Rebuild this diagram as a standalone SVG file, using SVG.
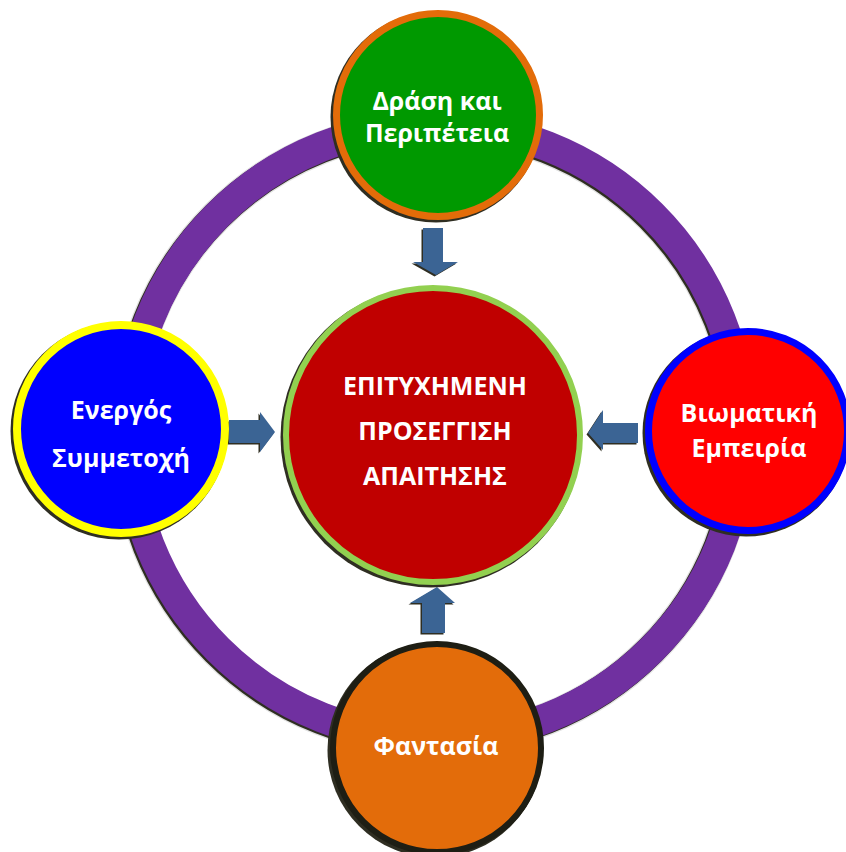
<svg xmlns="http://www.w3.org/2000/svg" width="846" height="852" viewBox="0 0 846 852">
  <style>
    .lbl { font-family: "Open Sans", "Liberation Sans", sans-serif; font-weight: bold; font-size: 25px; fill: #ffffff; text-anchor: middle; }
    .ctr { font-size: 25px; }
    .shadow { fill: #2f2e22; }
    .arrow { fill: #3b6494; }
    .ashadow { fill: #2f2e22; }
  </style>
  <rect width="846" height="852" fill="#ffffff"/>
  <g id="ring">
    <circle cx="433.5" cy="433.5" r="307" fill="none" stroke="#e2e2e2" stroke-width="33"/>
    <circle cx="433.5" cy="433.5" r="307" fill="none" stroke="#2f2e22" stroke-width="30.5"/>
    <circle cx="435" cy="432" r="307" fill="none" stroke="#7030a0" stroke-width="30"/>
  </g>
  <g id="connectors">
    <polygon class="ashadow" points="421.5,229.5 441.5,229.5 441.5,263.5 456.5,263.5 434.5,276.5 411.5,263.5 421.5,263.5"/>
    <polygon class="arrow" points="423,228 443,228 443,262 458,262 436,275 413,262 423,262"/>
    <polygon class="ashadow" points="227.5,421.5 258.5,421.5 258.5,413.5 273.5,433.5 258.5,453.5 258.5,444.5 227.5,444.5"/>
    <polygon class="arrow" points="229,420 260,420 260,412 275,432 260,452 260,443 229,443"/>
    <polygon class="ashadow" points="435.5,588.5 453.5,604.5 443.5,604.5 443.5,634.5 420.5,634.5 420.5,604.5 408.5,604.5"/>
    <polygon class="arrow" points="437,587 455,603 445,603 445,633 422,633 422,603 410,603"/>
    <polygon class="ashadow" points="586.5,434.5 601.5,411.5 601.5,424.5 636.5,424.5 636.5,444.5 601.5,444.5 601.5,451.5"/>
    <polygon class="arrow" points="588,433 603,410 603,423 638,423 638,443 603,443 603,450"/>
  </g>
  <g id="node-top">
    <circle class="shadow" cx="436" cy="117" r="105.5"/>
    <circle cx="438" cy="115" r="101.5" fill="#009900" stroke="#e36c09" stroke-width="7"/>
    <text class="lbl" x="437" y="110">Δράση και</text>
    <text class="lbl" x="437" y="142">Περιπέτεια</text>
  </g>
  <g id="node-left">
    <circle class="shadow" cx="119" cy="431" r="108.5"/>
    <circle cx="121" cy="429" r="104" fill="#0000ff" stroke="#ffff00" stroke-width="8"/>
    <text class="lbl" x="121" y="419">Ενεργός</text>
    <text class="lbl" x="121" y="467">Συμμετοχή</text>
  </g>
  <g id="node-right">
    <circle class="shadow" cx="746" cy="433" r="103.5"/>
    <circle cx="748" cy="431" r="99.5" fill="#ff0000" stroke="#0000ff" stroke-width="7"/>
    <text class="lbl" x="749" y="422">Βιωματική</text>
    <text class="lbl" x="749" y="457">Εμπειρία</text>
  </g>
  <g id="node-bottom">
    <circle class="shadow" cx="435" cy="750" r="107.5"/>
    <circle cx="437" cy="748" r="104" fill="#e36c0a" stroke="#1e1e14" stroke-width="6"/>
    <text class="lbl" x="436" y="755">Φαντασία</text>
  </g>
  <g id="node-center">
    <circle class="shadow" cx="431" cy="437" r="150.5"/>
    <circle cx="433" cy="435" r="147" fill="#c00000" stroke="#92d050" stroke-width="6"/>
    <text class="lbl ctr" x="435" y="395">ΕΠΙΤΥΧΗΜΕΝΗ</text>
    <text class="lbl ctr" x="435" y="440">ΠΡΟΣΕΓΓΙΣΗ</text>
    <text class="lbl ctr" x="435" y="485">ΑΠΑΙΤΗΣΗΣ</text>
  </g>
</svg>
